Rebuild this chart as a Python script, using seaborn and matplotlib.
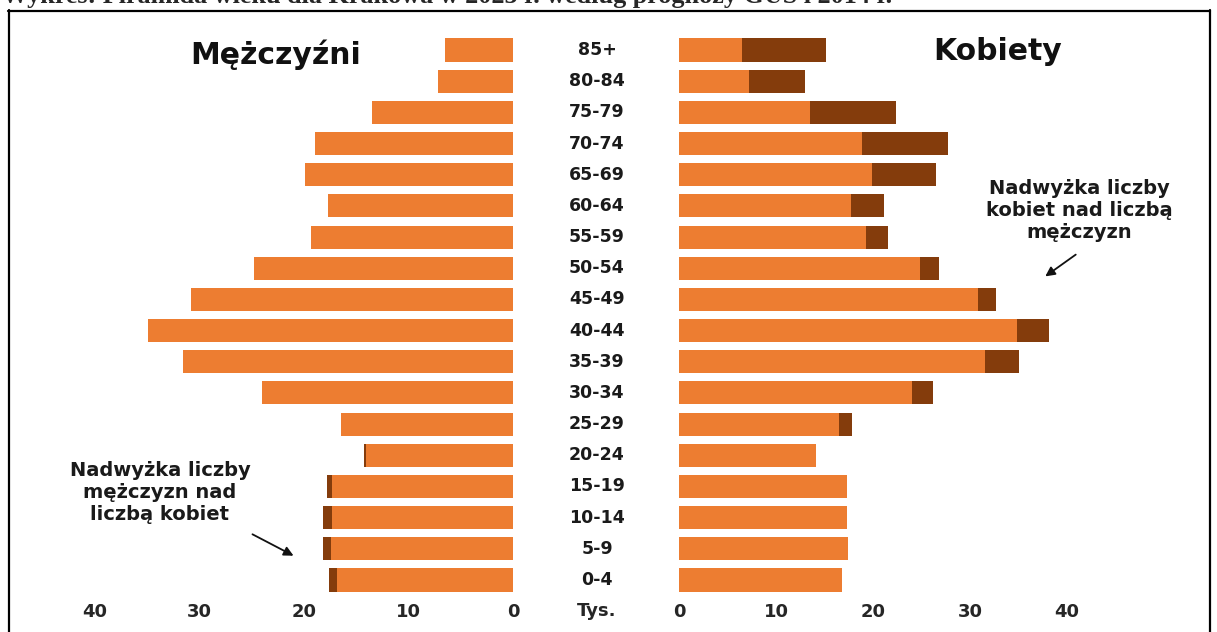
import matplotlib
matplotlib.use("Agg")
import matplotlib.pyplot as plt
import matplotlib.transforms as mtransforms
from matplotlib.lines import Line2D
from matplotlib.patches import FancyArrowPatch
import pandas as pd
import seaborn as sns

# Age groups, top to bottom
ages = ['85+', '80-84', '75-79', '70-74', '65-69', '60-64', '55-59', '50-54',
        '45-49', '40-44', '35-39', '30-34', '25-29', '20-24', '15-19',
        '10-14', '5-9', '0-4']
# Population in thousands
men = [6.5, 7.2, 13.5, 18.9, 19.9, 17.7, 19.3, 24.8, 30.8, 34.9, 31.6, 24.0,
       16.5, 14.3, 17.8, 18.2, 18.2, 17.6]
women = [15.2, 13.0, 22.4, 27.7, 26.5, 21.1, 21.5, 26.8, 32.7, 38.2, 35.1,
         26.2, 17.8, 14.1, 17.3, 17.3, 17.4, 16.8]
ticks = [0, 10, 20, 30, 40]

ORANGE = '#ED7D31'
DARK = '#843C0C'

df = pd.DataFrame({'age': ages, 'men': men, 'women': women})
df['common'] = df[['men', 'women']].min(axis=1)

sns.set_theme(style='white')
plt.rcParams['font.family'] = ['DejaVu Sans']

W, H = 1217, 632
fig = plt.figure(figsize=(W / 100, H / 100), dpi=100)
fig.patch.set_facecolor('white')


def fx(px):
    return px / W


def fy(py):
    return 1 - py / H


top_px, bot_px = 31.3, 598.7
ax_m = fig.add_axes([fx(42.75), fy(bot_px), 470.25 / W, (bot_px - top_px) / H])
ax_w = fig.add_axes([fx(679), fy(bot_px), 436.4 / W, (bot_px - top_px) / H])

for ax, col, lim in [(ax_m, 'men', (45, 0)), (ax_w, 'women', (0, 45))]:
    sns.barplot(data=df, x=col, y='age', order=ages, color=DARK, width=0.74,
                saturation=1, errorbar=None, linewidth=0, ax=ax)
    sns.barplot(data=df, x='common', y='age', order=ages, color=ORANGE,
                width=0.74, saturation=1, errorbar=None, linewidth=0, ax=ax)
    ax.set_xlim(*lim)
    ax.set_ylim(17.6, -0.6)
    ax.set_xticks(ticks)
    ax.set_xticklabels([str(t) for t in ticks], fontsize=13, fontweight='bold')
    ax.set_yticks([])
    ax.set_xlabel('')
    ax.set_ylabel('')
    ax.tick_params(axis='x', length=0, pad=3)
    for s in ax.spines.values():
        s.set_visible(False)
    ax.set_facecolor('none')

# Age group labels in the middle column
tr = mtransforms.blended_transform_factory(fig.transFigure, ax_m.transData)
for i, a in enumerate(ages):
    fig.text(fx(597), i, a, transform=tr, ha='center', va='center',
             fontsize=12.5, fontweight='bold', color='#1a1a1a')
fig.text(fx(597), fy(611), 'Tys.', ha='center', va='center',
         fontsize=13, fontweight='bold')

# Side headings
fig.text(fx(276), fy(55), 'Mężczyźni', ha='center', va='center',
         fontsize=21.5, fontweight='bold', color='#111111')
fig.text(fx(998), fy(52), 'Kobiety', ha='center', va='center',
         fontsize=21.5, fontweight='bold', color='#111111')

# Annotations
fig.text(fx(1079), fy(210), 'Nadwyżka liczby\nkobiet nad liczbą\nmężczyzn',
         ha='center', va='center', fontsize=14, fontweight='bold',
         linespacing=1.2, color='#1a1a1a')
fig.text(fx(160), fy(492), 'Nadwyżka liczby\nmężczyzn nad\nliczbą kobiet',
         ha='center', va='center', fontsize=14, fontweight='bold',
         linespacing=1.2, color='#1a1a1a')
for (x0, y0), (x1, y1) in [((1078, 253), (1043, 278)), ((250, 533), (296, 557))]:
    fig.add_artist(FancyArrowPatch((fx(x0), fy(y0)), (fx(x1), fy(y1)),
                                   transform=fig.transFigure,
                                   arrowstyle='-|>', mutation_scale=14,
                                   lw=1.3, color='#111111'))

# Frame around the chart
for xs, ys in [([8, 1210], [10.5, 10.5]), ([8.5, 8.5], [10, 640]),
               ([1209.5, 1209.5], [10, 640])]:
    fig.add_artist(Line2D([fx(x) for x in xs], [fy(y) for y in ys],
                          transform=fig.transFigure, color='black', lw=1.6))

# Caption line above the frame
fig.text(fx(2), fy(3), 'Wykres: Piramida wieku dla Krakowa w 2025 r. według prognozy GUS i 2014 r.',
         ha='left', va='baseline', fontsize=18.8, fontweight='bold',
         family=['Liberation Serif', 'DejaVu Serif'])

fig.savefig('out.png', dpi=100, facecolor='white')
